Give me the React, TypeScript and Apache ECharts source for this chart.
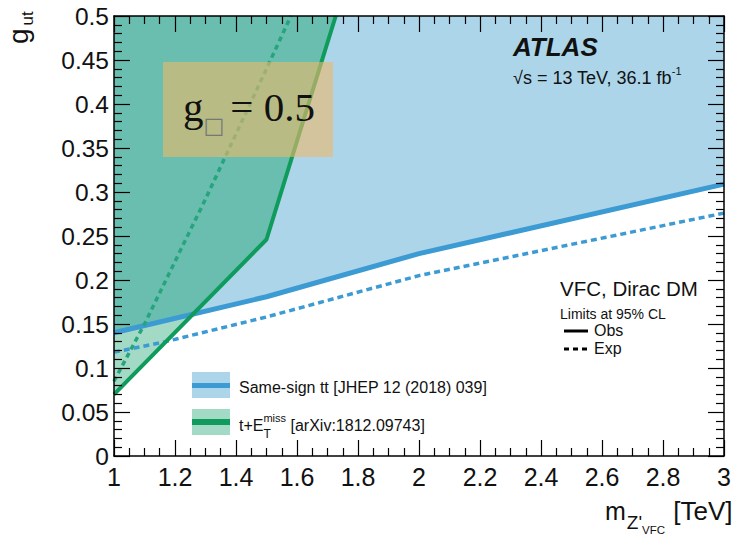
import React, { useEffect, useRef } from 'react';
import * as echarts from 'echarts';

// ---- data ----
const xRange = [1, 3];
const yRange = [0, 0.5];
const xStep = 0.2;
const yStep = 0.05;

// Same-sign tt limits
const blueObs: number[][] = [[1, 0.14], [1.5, 0.181], [2, 0.23], [3, 0.309]];
const blueExp: number[][] = [[1, 0.118], [1.17, 0.13], [1.5, 0.158], [2, 0.205], [3, 0.276]];
// t + MET limits
const greenObs: number[][] = [[1, 0.07], [1.5, 0.246], [1.727, 0.5]];
const greenExp: number[][] = [[1, 0.085], [1.1, 0.15], [1.3, 0.292], [1.5, 0.44], [1.58, 0.5]];

const legendLabels = ['Same-sign tt [JHEP 12 (2018) 039]', ' [arXiv:1812.09743]'];

const SANS = "'Liberation Sans', Arial, Helvetica, sans-serif";
const SERIF = "'Liberation Serif', 'Times New Roman', serif";

const C_BLUE_FILL = '#acd5ea';
const C_BLUE_LINE = '#3d9bd3';
const C_TEAL = '#69beaf';
const C_LGREEN = '#a3dac6';
const C_GREEN_LINE = '#0f9b5b';
const C_GREEN_DOT = '#27a47c';

function segIntersect(a: number[], b: number[], c: number[], d: number[]) {
  const r = [b[0] - a[0], b[1] - a[1]];
  const s = [d[0] - c[0], d[1] - c[1]];
  const den = r[0] * s[1] - r[1] * s[0];
  if (Math.abs(den) < 1e-12) return null;
  const t = ((c[0] - a[0]) * s[1] - (c[1] - a[1]) * s[0]) / den;
  const u = ((c[0] - a[0]) * r[1] - (c[1] - a[1]) * r[0]) / den;
  if (t < 0 || t > 1 || u < 0 || u > 1) return null;
  return [a[0] + t * r[0], a[1] + t * r[1]];
}

function buildPolys() {
  let P: number[] | null = null;
  let bi = 0, gj = 0;
  for (let i = 0; i < blueObs.length - 1 && !P; i++) {
    for (let j = 0; j < greenObs.length - 1 && !P; j++) {
      const q = segIntersect(blueObs[i], blueObs[i + 1], greenObs[j], greenObs[j + 1]);
      if (q) { P = q; bi = i; gj = j; }
    }
  }
  const top = yRange[1];
  const blue = [...blueObs, [xRange[1], top], [xRange[0], top]];
  const p = P as number[];
  const lgreen = [blueObs[0], greenObs[0], ...greenObs.slice(1, gj + 1), p, ...blueObs.slice(1, bi + 1).reverse()];
  const teal = [blueObs[0], ...blueObs.slice(1, bi + 1), p, ...greenObs.slice(gj + 1), [xRange[0], top]];
  return [
    { pts: blue, fill: C_BLUE_FILL },
    { pts: lgreen, fill: C_LGREEN },
    { pts: teal, fill: C_TEAL },
  ];
}

let _ctx: CanvasRenderingContext2D | null = null;
function measure(t: string, font: string) {
  if (!_ctx) _ctx = document.createElement('canvas').getContext('2d');
  _ctx!.font = font;
  return _ctx!.measureText(t).width;
}

type Run = { t: string; fs: number; dy?: number; w?: string; st?: string; fam?: string; fill?: string; sameX?: boolean; gap?: number };

function runs(x0: number, base: number, list: Run[], z = 100): any[] {
  let cursor = x0;
  let lastStart = x0;
  const out: any[] = [];
  for (const r of list) {
    const fam = r.fam || SANS;
    const font = `${r.st || 'normal'} ${r.w || 'normal'} ${r.fs}px ${fam}`;
    const w = measure(r.t, font);
    let start: number;
    if (r.sameX) {
      start = lastStart;
      cursor = Math.max(cursor, start + w);
    } else {
      start = cursor + (r.gap || 0);
      cursor = start + w;
      lastStart = start;
    }
    out.push({
      type: 'text',
      z,
      style: {
        text: r.t,
        x: start,
        y: base + (r.dy || 0) - 0.32 * r.fs,
        font,
        fill: r.fill || '#111',
        textAlign: 'left',
        textVerticalAlign: 'middle',
        align: 'left',
        verticalAlign: 'middle',
      },
    });
  }
  return out;
}

function buildOption(): any {
  const polys = buildPolys();
  const tick = { show: true, inside: true, length: 16, lineStyle: { color: '#000', width: 1.2 } };
  const axisLine = { show: true, onZero: false, lineStyle: { color: '#000', width: 1.5 } };
  const xBase = {
    type: 'value', min: xRange[0], max: xRange[1], interval: xStep, z: 10,
    axisLine, axisTick: tick,
    minorTick: { show: true, splitNumber: 4, length: 8, lineStyle: { color: '#000', width: 1.2 } },
    splitLine: { show: false }, minorSplitLine: { show: false },
  };
  const yBase = {
    type: 'value', min: yRange[0], max: yRange[1], interval: yStep, z: 10,
    axisLine, axisTick: tick,
    minorTick: { show: true, splitNumber: 5, length: 8, lineStyle: { color: '#000', width: 1.2 } },
    splitLine: { show: false }, minorSplitLine: { show: false },
  };

  const graphic: any[] = [];
  // annotation box
  graphic.push({ type: 'rect', z: 100, shape: { x: 163, y: 62, width: 170, height: 95 }, style: { fill: 'rgba(238,185,105,0.6)' } });
  graphic.push(...runs(183, 120, [
    { t: 'g', fs: 41, fam: SERIF },
    { t: '\u25A1', fs: 22, dy: 13, gap: 0, fam: "'DejaVu Sans', sans-serif", fill: '#777' },
    { t: '= 0.5', fs: 41, fam: SERIF, gap: 6 },
  ], 101));

  // ATLAS
  graphic.push(...runs(513, 55, [{ t: 'ATLAS', fs: 26, w: 'bold', st: 'italic' }]));
  graphic.push(...runs(513, 84, [
    { t: '\u221As = 13 TeV, 36.1 fb', fs: 18 },
    { t: '-1', fs: 11, dy: -9 },
  ]));

  // VFC legend
  graphic.push(...runs(560, 295, [{ t: 'VFC, Dirac DM', fs: 20.5 }]));
  graphic.push(...runs(560, 318, [{ t: 'Limits at 95% CL', fs: 14 }]));
  graphic.push(...runs(594, 336, [{ t: 'Obs', fs: 16 }]));
  graphic.push(...runs(594, 354, [{ t: 'Exp', fs: 16 }]));
  graphic.push({ type: 'line', z: 100, shape: { x1: 564, y1: 331, x2: 588, y2: 331 }, style: { stroke: '#000', lineWidth: 3 } });
  graphic.push({ type: 'line', z: 100, shape: { x1: 564, y1: 349, x2: 588, y2: 349 }, style: { stroke: '#000', lineWidth: 3, lineDash: [5, 4] } });

  // series legend
  graphic.push({ type: 'rect', z: 100, shape: { x: 192, y: 372, width: 38, height: 26 }, style: { fill: C_BLUE_FILL } });
  graphic.push({ type: 'rect', z: 100, shape: { x: 192, y: 383, width: 38, height: 5 }, style: { fill: C_BLUE_LINE } });
  graphic.push({ type: 'rect', z: 100, shape: { x: 192, y: 409, width: 38, height: 26 }, style: { fill: C_LGREEN } });
  graphic.push({ type: 'rect', z: 100, shape: { x: 192, y: 419, width: 38, height: 6 }, style: { fill: C_GREEN_LINE } });
  graphic.push(...runs(239, 393, [{ t: legendLabels[0], fs: 16 }]));
  graphic.push(...runs(239, 431, [
    { t: 't+E', fs: 16 },
    { t: 'T', fs: 12, dy: 7, gap: 0 },
    { t: 'miss', fs: 11, dy: -9, sameX: true },
    { t: legendLabels[1], fs: 16 },
  ]));

  // axis titles
  graphic.push(...runs(605, 519, [
    { t: 'm', fs: 25 },
    { t: "Z'", fs: 19, dy: 10, gap: 1 },
    { t: 'VFC', fs: 11.5, dy: 15 },
    { t: ' [TeV]', fs: 26, gap: 1 },
  ]));
  graphic.push({
    type: 'group', x: 27, y: 44, rotation: Math.PI / 2, z: 100,
    children: runs(0, 0, [{ t: 'g', fs: 28 }, { t: 'ut', fs: 17, dy: 6, gap: 3 }]),
  });

  const labelStyle = { fontSize: 25, color: '#111', fontFamily: SANS };

  return {
    animation: false,
    backgroundColor: '#fff',
    grid: { left: 114, right: 15, top: 16, bottom: 81, containLabel: false },
    xAxis: [
      { ...xBase, position: 'bottom', axisLabel: { ...labelStyle, margin: 8, formatter: (v: number) => String(+v.toFixed(1)) } },
      { ...xBase, position: 'top', axisLabel: { show: false } },
    ],
    yAxis: [
      { ...yBase, position: 'left', axisLabel: { ...labelStyle, fontSize: 24.5, margin: 5, formatter: (v: number) => String(+v.toFixed(2)) } },
      { ...yBase, position: 'right', axisLabel: { show: false } },
    ],
    series: [
      {
        type: 'custom', z: 1, silent: true, clip: true,
        data: polys.map(() => [xRange[0], yRange[0]]),
        renderItem: (params: any, api: any) => {
          const p = polys[params.dataIndex];
          return { type: 'polygon', shape: { points: p.pts.map((q) => api.coord(q)) }, style: { fill: p.fill } };
        },
      },
      { type: 'line', z: 3, data: blueExp, symbol: 'none', silent: true, lineStyle: { color: C_BLUE_LINE, width: 3.5, type: [6, 4] } },
      { type: 'line', z: 3, data: blueObs, symbol: 'none', silent: true, lineStyle: { color: C_BLUE_LINE, width: 5 } },
      { type: 'line', z: 4, data: greenExp, symbol: 'none', silent: true, lineStyle: { color: C_GREEN_DOT, width: 3.5, type: [5, 4] } },
      { type: 'line', z: 4, data: greenObs, symbol: 'none', silent: true, lineStyle: { color: C_GREEN_LINE, width: 4 } },
    ],
    graphic,
  };
}

export default function App() {
  const ref = useRef<HTMLDivElement>(null);
  useEffect(() => {
    const chart = echarts.init(ref.current!, undefined, { renderer: 'svg' });
    chart.setOption(buildOption());
    return () => chart.dispose();
  }, []);
  return <div ref={ref} style={{ position: 'fixed', left: 0, top: 0, width: 739, height: 537, background: '#fff' }} />;
}
